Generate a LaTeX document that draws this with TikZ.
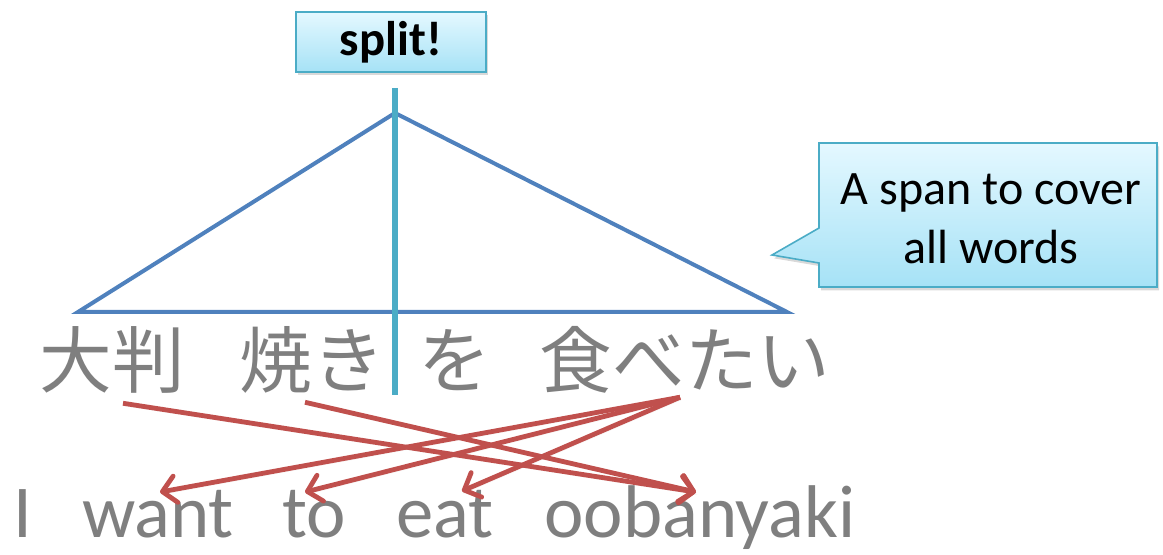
\documentclass[tikz,border=0pt]{standalone}
\usepackage{fontspec}
\setmainfont{Carlito}
\newfontfamily\jpfont{Noto Sans CJK JP}
\usetikzlibrary{arrows.meta,shadows,calc}
\definecolor{boxedge}{HTML}{4BACC6}
\definecolor{boxtop}{HTML}{E4F8FF}
\definecolor{boxbot}{HTML}{A6E2F6}
\definecolor{triblue}{HTML}{4F81BD}
\definecolor{linkred}{HTML}{C0504D}
\definecolor{wordgray}{HTML}{7F7F7F}
\begin{document}
\begin{tikzpicture}[x=0.75pt,y=-0.75pt,
  jword/.style={font=\jpfont\fontsize{54.5}{60}\selectfont, text=wordgray, inner sep=0pt,
    text height=40pt, text depth=10.5pt, anchor=base},
  eword/.style={font=\fontsize{56}{64}\selectfont, text=wordgray, inner sep=0pt,
    text height=35pt, text depth=6pt, anchor=base},
  link/.style={draw=linkred, line width=3.6pt, -{Straight Barb[round,length=10pt,width=20pt]},
    drop shadow={opacity=0.2, shadow xshift=1pt, shadow yshift=-2pt}},
  shadowed/.style={drop shadow={opacity=0.3, shadow xshift=1.5pt, shadow yshift=-2.5pt}},
  splitbox/.style={draw=boxedge, line width=1.5pt, top color=boxtop, bottom color=boxbot,
    shadowed, minimum width=142.5pt, minimum height=45pt, inner sep=0pt,
    font=\bfseries\fontsize{36.5}{42}\selectfont},
  calloutbody/.style={draw=boxedge, line width=1.2pt, top color=boxtop, bottom color=boxbot, shadowed},
  callouttext/.style={font=\fontsize{36}{44}\selectfont, align=center, inner sep=0pt},
  spanline/.style={draw=triblue, line width=3pt},
  splitline/.style={draw=boxedge, line width=5pt}
]
\useasboundingbox (0,0) rectangle (1163,555);

% span triangle
\coordinate (apex) at (395,113);
\coordinate (lcorner) at (78,312);
\coordinate (rcorner) at (787,312);
\draw[spanline] (lcorner) -- (apex) -- (rcorner) -- cycle;

% split line
\coordinate (stop) at (395,88);
\coordinate (sbot) at (395,395);
\draw[splitline] (stop) -- (sbot);

% split box
\node[splitbox] (split) at (391,42) {split!};

% callout
\path[calloutbody] (819,143) -- (1157,143) -- (1157,287) -- (819,287) -- (819,263)
  -- (772,255) -- (819,228) -- cycle;
\node[callouttext] (note) at (991,219) {A span to cover\\all words};

% Japanese words
\node[jword] (j1) at (112,388) {大判};
\node[jword] (j2) at (312,388) {焼き};
\node[jword] (j3) at (455,388) {を};
\node[jword] (j4) at (685,388) {食べたい};

% English words
\node[eword] (e1) at (23,537) {I};
\node[eword] (e2) at (158,537) {want};
\node[eword] (e3) at (314,537) {to};
\node[eword] (e4) at (445,537) {eat};
\node[eword] (e5) at (700,537) {oobanyaki};

% alignment links
\draw[link] ($(j1.south)+(11,1)$) -- ($(e5.north)+(-4,2)$);
\draw[link] ($(j2.south)+(-7,0)$) -- ($(e5.north)+(-4,2)$);
\draw[link] ($(j4.south)+(-5,-5)$) -- ($(e2.north)+(2,2)$);
\draw[link] ($(j4.south)+(-5,-5)$) -- ($(e3.north)+(-9,2)$);
\draw[link] ($(j4.south)+(-5,-5)$) -- ($(e4.north)+(17,1)$);
\end{tikzpicture}
\end{document}
